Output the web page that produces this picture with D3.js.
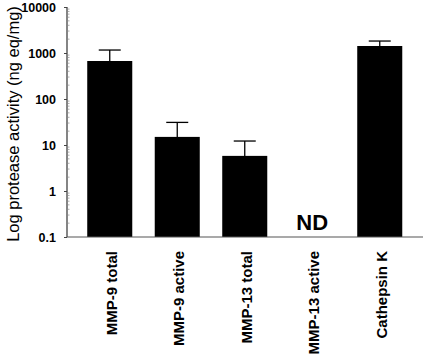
<!DOCTYPE html>
<html><head><meta charset="utf-8">
<script src="https://cdn.jsdelivr.net/npm/d3@7"></script>
<style>body{margin:0;background:#fff}svg{display:block}text{font-family:Arial,"Liberation Sans",sans-serif}</style>
</head><body><svg id="c" width="424" height="358"></svg>
<script>
const categories = ["MMP-9 total","MMP-9 active","MMP-13 total","MMP-13 active","Cathepsin K"];
const values = [670, 15, 5.8, null, 1420];
const errors = [1160, 31, 12.2, null, 1820];
const yTicks = [0.1, 1, 10, 100, 1000, 10000];
const yTickLabels = ["0.1","1","10","100","1000","10000"];
const ndLabel = "ND";
const yTitle = "Log protease activity (ng eq/mg)";

const svg = d3.select("#c");
const x0 = 67, x1 = 423, yTop = 7, yBot = 237;
const y = d3.scaleLog().domain([0.1, 10000]).range([yBot, yTop]);
const x = d3.scaleBand().domain(categories).range([76, 413.5]).paddingInner(0.333).paddingOuter(0.1665);

// bars
categories.forEach((c,i)=>{
  if(values[i]==null) return;
  svg.append("rect").attr("x",x(c)).attr("width",x.bandwidth())
    .attr("y",y(values[i])).attr("height",yBot-y(values[i])).attr("fill","#000");
  const cx = x(c)+x.bandwidth()/2;
  svg.append("line").attr("x1",cx).attr("x2",cx).attr("y1",y(values[i])).attr("y2",y(errors[i])).attr("stroke","#000").attr("stroke-width",1.3);
  svg.append("line").attr("x1",cx-11).attr("x2",cx+11).attr("y1",y(errors[i])).attr("y2",y(errors[i])).attr("stroke","#000").attr("stroke-width",1.3);
});

// y axis
const yAxis = d3.axisLeft(y).tickValues(yTicks).tickFormat((d,i)=>yTickLabels[i]).tickSize(3).tickPadding(8);
const ga = svg.append("g").attr("transform",`translate(${x0},0)`).call(yAxis);
ga.select(".domain").attr("stroke","#333").attr("stroke-width",1.2).attr("d",`M0,${yTop}V${yBot}`);
ga.selectAll(".tick line").attr("stroke","#444");
ga.selectAll(".tick text").attr("font-size",12.5).attr("font-weight","bold").attr("fill","#000");
// minor ticks
const minor = [];
for(let e=-1;e<4;e++){for(let k=2;k<10;k++){minor.push(k*Math.pow(10,e));}}
svg.append("g").selectAll("line").data(minor).join("line")
  .attr("x1",x0).attr("x2",x0+2.5).attr("y1",d=>y(d)).attr("y2",d=>y(d))
  .attr("stroke","#888").attr("stroke-width",0.7);

// x axis line
const xAxis = d3.axisBottom(x).tickSize(0).tickFormat("");
const gx = svg.append("g").attr("transform",`translate(0,${yBot})`).call(xAxis);
gx.select(".domain").attr("stroke","#555").attr("stroke-width",1.2).attr("d",`M${x0},0H${x1}`);

// x labels rotated
categories.forEach(c=>{
  const cx = x(c)+x.bandwidth()/2;
  svg.append("text").attr("transform",`translate(${cx+7},251) rotate(-90)`)
    .attr("text-anchor","end").attr("font-size",15).attr("font-weight","bold").text(c);
});

// ND
svg.append("text").attr("x",x("MMP-13 active")+x.bandwidth()/2).attr("y",230)
  .attr("text-anchor","middle").attr("font-size",22).attr("font-weight","bold").text(ndLabel);

// y title
svg.append("text").attr("transform",`translate(19,${(yTop+yBot)/2+2}) rotate(-90)`)
  .attr("text-anchor","middle").attr("font-size",16.5).text(yTitle);
</script></body></html>
